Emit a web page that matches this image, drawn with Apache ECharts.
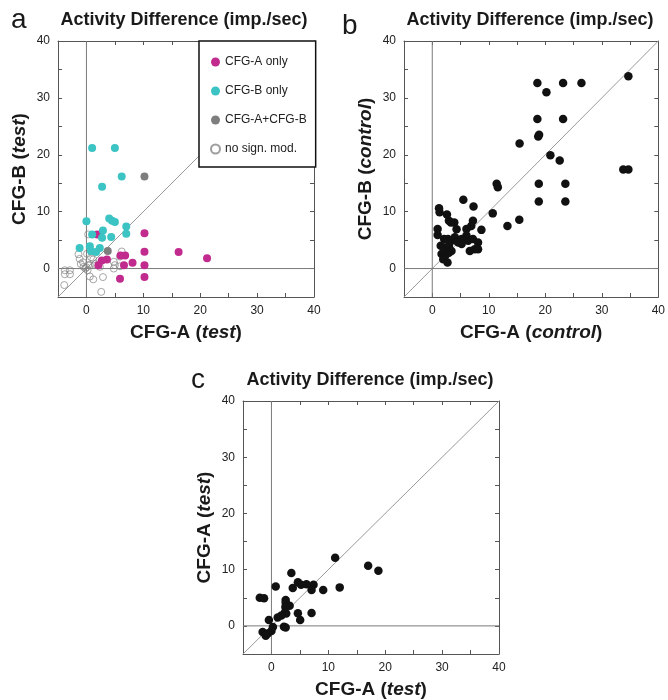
<!DOCTYPE html>
<html><head><meta charset="utf-8">
<script src="https://cdn.jsdelivr.net/npm/echarts@6/dist/echarts.min.js"></script>
<style>html,body{margin:0;padding:0;background:#fff}#c{width:668px;height:700px}</style>
</head><body><div id="c"></div>
<script>
// axis limits and tick labels
const axisMin = -5, axisMax = 40, tickStep = 5;
const tickLabels = [0, 10, 20, 30, 40];

// Panel a: CFG-B (test) vs CFG-A (test)
const aOnly = [[1.9,6.0],[10.2,6.2],[10.2,2.95],[16.2,2.9],[21.2,1.8],[6.0,2.3],[6.8,2.3],[2.1,0.6],[2.7,1.4],[3.6,1.6],[6.6,0.6],[8.1,1.0],[10.2,0.6],[5.9,-1.8],[10.2,-1.5]];
const bOnly = [[1.0,21.2],[5.0,21.2],[6.2,16.2],[2.75,14.4],[0,8.3],[4.0,8.8],[4.5,8.4],[5.0,8.2],[7.0,7.4],[2.9,6.7],[1.0,6.0],[4.35,5.55],[2.75,5.4],[7.0,6.1],[-1.2,3.6],[0.6,3.9],[2.35,3.6],[0.8,3.1],[1.7,2.9]];
const aPlusB = [[10.2,16.2],[3.75,3.1]];
const noMod = [[-3.8,-0.3],[-2.9,-0.3],[-3.8,-1.0],[-2.9,-1.0],[-3.9,-2.9],[-1.4,2.5],[-1.2,1.7],[-0.6,1.1],[-0.5,0.3],[0,0.2],[0.3,0.6],[0.2,-0.3],[-0.2,0],[0.6,0.6],[1.2,1.6],[0.8,2.0],[0.3,6.0],[0.6,-1.4],[1.2,-1.9],[2.9,-1.5],[2.6,-4.1],[2.35,0.3],[4.8,1.2],[5.0,0.6],[4.8,0],[6.2,3.0],[5.9,2.1],[5.9,0.4],[0.9,2.9],[0.1,2.6],[-1.0,0.8],[1.5,0.8]];

// Panel b: CFG-B (control) vs CFG-A (control)
const controlPts = [[34.7,33.8],[18.6,32.6],[23.15,32.6],[26.4,32.6],[20.2,31.0],[18.6,26.3],[23.15,26.3],[18.75,23.2],[18.9,23.5],[15.45,22.0],[20.9,19.9],[22.55,19.0],[33.8,17.4],[34.7,17.4],[11.4,14.9],[11.6,14.3],[18.85,14.9],[23.55,14.9],[18.85,11.8],[23.55,11.8],[15.4,8.6],[13.3,7.5],[10.7,9.7],[5.5,12.1],[7.3,10.9],[1.2,10.6],[1.3,9.9],[2.6,9.5],[2.95,8.4],[3.3,8.1],[3.9,8.1],[7.2,8.4],[6.9,7.5],[0.95,6.95],[0.95,5.9],[4.3,6.9],[6.05,6.95],[8.7,6.8],[2.1,5.2],[2.8,5.2],[3.4,4.9],[4.0,5.5],[4.3,4.9],[6.05,5.8],[6.35,4.9],[7.2,5.2],[8.1,4.6],[5.2,5.2],[5.2,4.3],[4.6,4.6],[1.5,4.0],[2.25,3.7],[2.95,4.0],[1.65,2.55],[2.35,2.35],[2.95,2.8],[3.4,3.1],[1.95,1.65],[2.7,1.05],[6.65,3.1],[7.5,3.4],[8.1,3.4]];

// Panel c: CFG-A (test) vs CFG-A (test)
const testPts = [[11.2,12.1],[17.0,10.7],[18.8,9.8],[3.5,9.4],[0.75,7.0],[3.75,6.75],[4.65,7.75],[5.2,7.3],[6.15,7.4],[7.4,7.3],[7.05,6.4],[9.1,6.4],[12.0,6.85],[-2.05,5.0],[-1.3,4.9],[2.5,4.6],[2.5,4.1],[3.2,3.6],[2.45,3.35],[2.35,2.4],[2.6,2.2],[1.75,1.85],[1.1,1.5],[4.65,2.25],[7.05,2.3],[5.05,1.05],[-0.45,1.05],[0.25,-0.2],[2.2,-0.15],[2.5,-0.3],[-1.55,-1.1],[-0.65,-1.35],[-1.0,-1.75],[0,-0.9]];

const seriesNames = ['CFG-A only', 'CFG-B only', 'CFG-A+CFG-B', 'no sign. mod.'];
const xNames = [['CFG-A (', 'test', ')'], ['CFG-A (', 'control', ')'], ['CFG-A (', 'test', ')']];
const yNames = [['CFG-B (', 'test', ')'], ['CFG-B (', 'control', ')'], ['CFG-A (', 'test', ')']];
const titleText = 'Activity Difference (imp./sec)';
const panelLetters = ['a', 'b', 'c'];

const FONT = '"Liberation Sans", Arial, Helvetica, sans-serif';
const grids = [
  {left: 58, top: 41, width: 256, height: 256},
  {left: 404, top: 41, width: 256, height: 256},
  {left: 243, top: 401, width: 256, height: 257}
];
const richName = {
  b: {fontSize: 19, fontWeight: 'bold', fontFamily: FONT, color: '#1a1a1a'},
  i: {fontSize: 19, fontWeight: 'bold', fontStyle: 'italic', fontFamily: FONT, color: '#1a1a1a'}
};
const fmtName = p => '{b|' + p[0] + '}{i|' + p[1] + '}{b|' + p[2] + '}';
const lineCol = '#555';

const xAxes = [], yAxes = [], series = [];
grids.forEach((g, i) => {
  const common = {
    type: 'value', gridIndex: i, min: axisMin, max: axisMax, interval: tickStep,
    splitLine: {show: false},
    axisLine: {show: true, onZero: false, lineStyle: {color: lineCol, width: 1}},
    axisTick: {show: true, inside: true, length: 4, lineStyle: {color: lineCol, width: 1}}
  };
  xAxes.push(Object.assign({}, common, {
    position: 'bottom',
    axisLabel: {show: true, color: '#222', fontSize: 12, fontFamily: FONT, margin: 8,
      formatter: v => tickLabels.includes(v) ? String(v) : ''},
    name: fmtName(xNames[i]), nameLocation: 'middle', nameGap: 26,
    nameTextStyle: {rich: richName}
  }));
  xAxes.push(Object.assign({}, common, {position: 'top', axisLabel: {show: false}}));
  yAxes.push(Object.assign({}, common, {
    position: 'left',
    axisLabel: {show: true, color: '#222', fontSize: 12, fontFamily: FONT, margin: 8,
      formatter: v => tickLabels.includes(v) ? String(v) : ''},
    name: fmtName(yNames[i]), nameLocation: 'middle', nameGap: 29, nameRotate: 90,
    nameTextStyle: {rich: richName}
  }));
  yAxes.push(Object.assign({}, common, {position: 'right', axisLabel: {show: false}}));

  const refLine = (data, color) => ({
    type: 'line', xAxisIndex: 2 * i, yAxisIndex: 2 * i, data: data, symbol: 'none',
    silent: true, z: 1, lineStyle: {color: color, width: 1}, animation: false
  });
  series.push(refLine([[axisMin, axisMin], [axisMax, axisMax]], '#9a9a9a'));
  series.push(refLine([[0, axisMin], [0, axisMax]], '#7a7a7a'));
  series.push(refLine([[axisMin, 0], [axisMax, 0]], '#7a7a7a'));
});

const dot = (name, data, gi, color, size) => ({
  name: name, type: 'scatter', xAxisIndex: 2 * gi, yAxisIndex: 2 * gi, data: data,
  symbol: 'circle', symbolSize: size, z: 3, animation: false,
  itemStyle: {color: color, opacity: 1}
});

series.push(Object.assign(dot(seriesNames[3], noMod, 0, 'rgba(255,255,255,0)', 7),
  {itemStyle: {color: 'rgba(255,255,255,0)', borderColor: '#858585', borderWidth: 0.9}}));
series.push(dot(seriesNames[0], aOnly, 0, '#C22B8E', 8));
series.push(dot(seriesNames[1], bOnly, 0, '#3CC3C3', 8));
series.push(dot(seriesNames[2], aPlusB, 0, '#7E7E7E', 8));
series.push(dot('control', controlPts, 1, '#111', 8.5));
series.push(dot('test', testPts, 2, '#111', 8.5));

const graphics = [];
const titlePos = [[184, 20], [530, 20], [370, 380]];
titlePos.forEach(p => graphics.push({
  type: 'text', x: p[0], y: p[1], silent: true,
  style: {text: titleText, font: 'bold 18px ' + FONT, fill: '#1a1a1a', align: 'center', verticalAlign: 'middle'}
}));
const letterPos = [[11, 34], [342, 40], [191, 394]];
letterPos.forEach((p, k) => graphics.push({
  type: 'text', x: p[0], y: p[1], silent: true,
  style: {text: panelLetters[k], font: '28px ' + FONT, fill: '#1a1a1a', align: 'left', verticalAlign: 'bottom'}
}));

const chart = echarts.init(document.getElementById('c'), null, {renderer: 'canvas'});
chart.setOption({
  backgroundColor: '#fff',
  animation: false,
  grid: grids,
  xAxis: xAxes,
  yAxis: yAxes,
  legend: {
    data: [seriesNames[0], seriesNames[1], seriesNames[2], seriesNames[3]],
    orient: 'vertical', left: 199, top: 41,
    itemWidth: 9, itemHeight: 9, itemGap: 17, itemTextGap: 4, icon: 'circle',
    padding: [15, 9, 12, 11],
    backgroundColor: '#fff', borderColor: '#111', borderWidth: 1.5, borderRadius: 0,
    textStyle: {fontSize: 12, color: '#222', fontFamily: FONT},
    selectedMode: false, z: 10
  },
  graphic: graphics,
  series: series
});
</script>
</body></html>
